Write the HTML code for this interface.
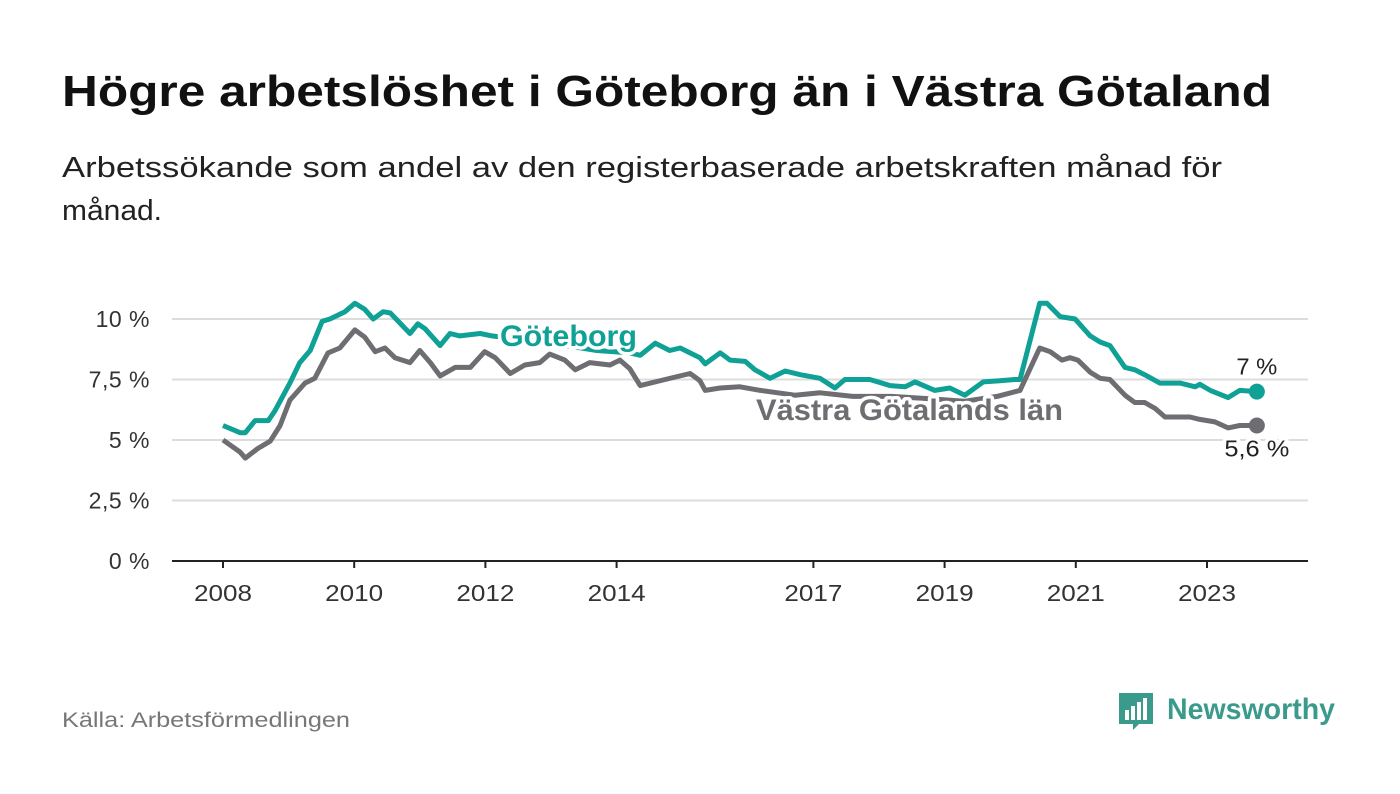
<!DOCTYPE html>
<html><head><meta charset="utf-8"><style>
body{margin:0;background:#fff;}
svg{display:block;font-family:"Liberation Sans",sans-serif;}
</style></head><body>
<svg id="c" width="1400" height="794" viewBox="0 0 1400 794">
<text x="62" y="106" font-size="44" font-weight="bold" fill="#111" textLength="1210" lengthAdjust="spacingAndGlyphs">Högre arbetslöshet i Göteborg än i Västra Götaland</text>
<text x="62" y="177" font-size="29" fill="#222" textLength="1160" lengthAdjust="spacingAndGlyphs">Arbetssökande som andel av den registerbaserade arbetskraften månad för</text>
<text x="62" y="220" font-size="29" fill="#222" textLength="100" lengthAdjust="spacingAndGlyphs">månad.</text>
<g id="grid"></g>
<g id="yt"></g>
<g id="xt"></g>
<g id="lines"></g>
<text x="62" y="727" font-size="21" fill="#777" textLength="288" lengthAdjust="spacingAndGlyphs">Källa: Arbetsförmedlingen</text>
<g>
<path d="M1119 693h34v31h-14l-6 6v-6h-14z" fill="#3a9a8c"/>
<rect x="1125" y="710" width="4" height="10" fill="#fff"/><rect x="1131" y="706" width="4" height="14" fill="#fff"/><rect x="1137" y="702" width="4" height="18" fill="#fff"/><rect x="1143" y="698" width="4" height="22" fill="#fff"/>
<text x="1167" y="719" font-size="30" font-weight="bold" fill="#3a9a8c" textLength="168" lengthAdjust="spacingAndGlyphs">Newsworthy</text>
</g>
</svg>
<script>
const yTicks=[0,2.5,5,7.5,10];
const yTickLabels=["0 %","2,5 %","5 %","7,5 %","10 %"];
const xTicks=[2008,2010,2012,2014,2017,2019,2021,2023];
const gbgYears=[0,.26,.34,.49,.69,.79,1.02,1.17,1.33,1.51,1.63,1.86,2.01,2.16,2.29,2.44,2.55,2.85,2.97,3.08,3.31,3.46,3.61,3.92,4.10,4.4,5.0,5.7,6.2,6.36,6.59,6.81,6.97,7.27,7.35,7.58,7.73,7.96,8.11,8.34,8.57,8.80,9.10,9.33,9.48,9.86,10.17,10.40,10.55,10.85,11.08,11.31,11.59,11.84,12.07,12.15,12.45,12.56,12.76,12.99,13.22,13.37,13.52,13.75,13.90,14.05,14.28,14.59,14.82,14.89,15.05,15.32,15.50,15.76];
const gbgValues=[5.6,5.3,5.3,5.8,5.8,6.2,7.35,8.2,8.7,9.9,10.0,10.3,10.65,10.4,10.0,10.3,10.25,9.4,9.8,9.6,8.9,9.4,9.3,9.4,9.3,9.2,9.0,8.7,8.6,8.5,9.0,8.7,8.8,8.4,8.15,8.6,8.3,8.25,7.9,7.55,7.85,7.7,7.55,7.15,7.5,7.5,7.25,7.2,7.4,7.05,7.15,6.85,7.4,7.45,7.5,7.5,10.65,10.65,10.1,10.0,9.3,9.05,8.9,8.0,7.9,7.7,7.35,7.35,7.2,7.3,7.05,6.75,7.05,7.0];
const vgYears=[0,.26,.34,.53,.72,.87,1.02,1.25,1.40,1.60,1.78,2.01,2.16,2.32,2.47,2.62,2.85,3.00,3.16,3.31,3.54,3.77,3.99,4.15,4.38,4.60,4.83,4.98,5.21,5.37,5.59,5.90,6.05,6.20,6.36,6.74,7.12,7.27,7.35,7.58,7.88,8.19,8.72,9.10,9.6,10.2,10.8,11.3,11.8,12.15,12.45,12.61,12.79,12.91,13.03,13.22,13.37,13.52,13.75,13.90,14.05,14.21,14.36,14.74,14.89,15.12,15.32,15.50,15.76];
const vgValues=[5.0,4.5,4.25,4.65,4.95,5.6,6.65,7.35,7.55,8.6,8.8,9.55,9.25,8.65,8.8,8.4,8.2,8.7,8.2,7.65,8.0,8.0,8.65,8.4,7.75,8.1,8.2,8.55,8.3,7.9,8.2,8.1,8.3,7.95,7.25,7.5,7.75,7.45,7.05,7.15,7.2,7.05,6.85,6.95,6.8,6.8,6.7,6.6,6.8,7.05,8.8,8.65,8.3,8.4,8.3,7.8,7.55,7.5,6.85,6.55,6.55,6.3,5.95,5.95,5.85,5.75,5.5,5.6,5.6];
const NS="http://www.w3.org/2000/svg";
const X=t=>223+t*65.6;
const Y=v=>561-v*24.2;
const yr=y=>X(y-2008);
function mk(tag,attrs,parent){const e=document.createElementNS(NS,tag);for(const k in attrs)e.setAttribute(k,attrs[k]);parent.appendChild(e);return e;}
const grid=document.getElementById('grid'),yt=document.getElementById('yt'),xt=document.getElementById('xt'),lines=document.getElementById('lines');
yTicks.forEach((v,i)=>{
 if(v>0){const l=mk('line',{x1:172,x2:1308,y1:Y(v),y2:Y(v),stroke:'#dcdcdc','stroke-width':2},grid);
 
 }
 const t=mk('text',{x:150,y:Y(v)+8,'font-size':23,fill:'#333','text-anchor':'end','letter-spacing':0.5},yt);t.textContent=yTickLabels[i];
 
 
});
const ax=mk('line',{x1:172,x2:1308,y1:561,y2:561,stroke:'#222','stroke-width':2},grid);


xTicks.forEach(y=>{
 mk('line',{x1:yr(y),x2:yr(y),y1:561,y2:568,stroke:'#222','stroke-width':2},xt);
 const t=mk('text',{x:yr(y),y:601,'font-size':23,fill:'#333','text-anchor':'middle',textLength:58,lengthAdjust:'spacingAndGlyphs'},xt);t.textContent=y;
 
 
});
function path(ys,vs,col,name){
 const d=ys.map((t,i)=>(i?'L':'M')+X(t).toFixed(1)+' '+Y(vs[i]).toFixed(1)).join(' ');
 const p=mk('path',{d:d,fill:'none',stroke:col,'stroke-width':5,'stroke-linejoin':'round'},lines);
 
 
 const n=ys.length-1;
 const c=mk('circle',{cx:X(ys[n]),cy:Y(vs[n]),r:8,fill:col},lines);
 
 
}
path(vgYears,vgValues,'#6d6d72','vastra-gotaland-line');
path(gbgYears,gbgValues,'#0fa196','goteborg-line');
function lab(x,y,txt,col,size,bold,name,anchor,len){
 const a={x:x,y:y,'font-size':size,'font-weight':bold?'bold':'normal',fill:col,stroke:'#fff','stroke-width':7,'paint-order':'stroke','stroke-linejoin':'round','text-anchor':anchor||'start'};
 if(len){a.textLength=len;a.lengthAdjust='spacingAndGlyphs';}
 const t=mk('text',a,lines);
 t.textContent=txt;
 
 
}
lab(500,346,'Göteborg','#0fa196',30,true,'goteborg-series-label','start',137);
lab(756,420,'Västra Götalands län','#6d6d72',30,true,'vastra-gotaland-series-label','start',307);
lab(X(gbgYears[gbgYears.length-1]),Y(gbgValues[gbgValues.length-1])-17,'7 %','#222',23,false,'goteborg-end-value','middle',41);
lab(X(vgYears[vgYears.length-1]),Y(vgValues[vgValues.length-1])+31,'5,6 %','#222',23,false,'vastra-gotaland-end-value','middle',65);
</script>
</body></html>
